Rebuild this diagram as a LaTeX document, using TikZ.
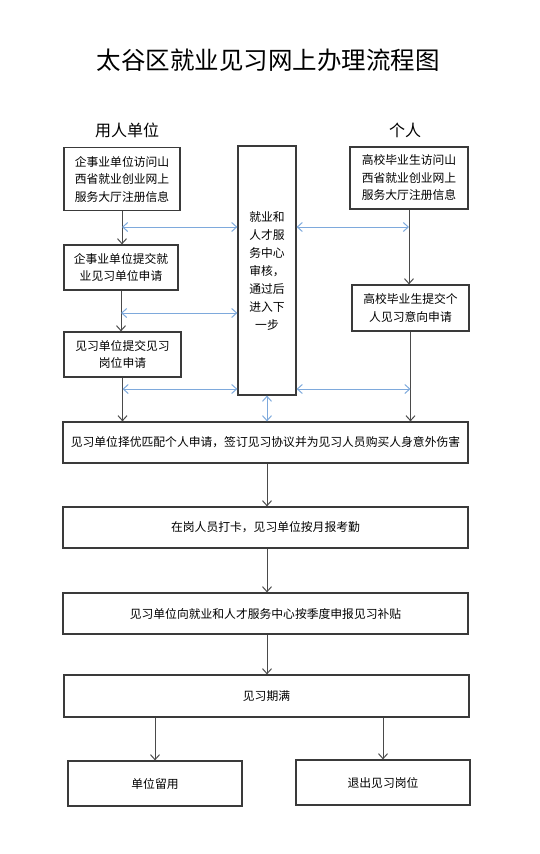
\documentclass[tikz,border=0pt]{standalone}
\usepackage{fontspec}
\setmainfont{Noto Sans CJK SC}
\usetikzlibrary{arrows.meta,calc}
\definecolor{boxline}{HTML}{3A3A3A}
\definecolor{arrline}{HTML}{4A4A4A}
\definecolor{bluearr}{HTML}{7EA9DC}
\tikzset{
  box/.style={draw=boxline,line width=1.2pt,align=center,inner sep=0pt,
    font=\fontsize{11.8}{17.5}\selectfont},
  arr/.style={draw=arrline,line width=1pt,-{Straight Barb[length=5pt,width=9pt]}},
  barr/.style={draw=bluearr,line width=1pt,{Straight Barb[length=5pt,width=9pt]}-{Straight Barb[length=5pt,width=9pt]}},
  hdr/.style={font=\fontsize{16}{18}\selectfont}
}
\begin{document}
\begin{tikzpicture}[x=1pt,y=-1pt]
\useasboundingbox (0,0) rectangle (539,854);
\node[font=\fontsize{24.5}{26}\selectfont] (title) at (268,60) {太谷区就业见习网上办理流程图};
\node[hdr] (h1) at (127,130) {用人单位};
\node[hdr] (h2) at (405,130) {个人};

\node[box,minimum width=116pt,minimum height=63pt] (A) at (122,179) {企事业单位访问山\\西省就业创业网上\\服务大厅注册信息};
\node[box,minimum width=118pt,minimum height=62pt] (B) at (409,178) {高校毕业生访问山\\西省就业创业网上\\服务大厅注册信息};
\node[box,minimum width=58pt,minimum height=249pt,font=\fontsize{11.8}{18}\selectfont] (M) at (267,270.5) {就业和\\人才服\\务中心\\审核，\\通过后\\进入下\\一步};
\node[box,minimum width=114pt,minimum height=45pt] (C) at (121,267.5) {企事业单位提交就\\业见习单位申请};
\node[box,minimum width=117pt,minimum height=45pt] (D) at (122.5,354.5) {见习单位提交见习\\岗位申请};
\node[box,minimum width=117pt,minimum height=46pt] (E) at (410.5,308) {高校毕业生提交个\\人见习意向申请};
\node[box,minimum width=405pt,minimum height=41pt] (F) at (265.5,442.5) {见习单位择优匹配个人申请，签订见习协议并为见习人员购买人身意外伤害};
\node[box,minimum width=405pt,minimum height=41pt] (G) at (265.5,527.5) {在岗人员打卡，见习单位按月报考勤};
\node[box,minimum width=405pt,minimum height=41pt] (H) at (265.5,613.5) {见习单位向就业和人才服务中心按季度申报见习补贴};
\node[box,minimum width=405pt,minimum height=42pt] (I) at (266.5,696) {见习期满};
\node[box,minimum width=174pt,minimum height=45pt] (J) at (155,783.5) {单位留用};
\node[box,minimum width=174pt,minimum height=45pt] (K) at (383,782.5) {退出见习岗位};

% left column
\draw[arr] (A.south) -- (A.south |- C.north);
\draw[arr] (C.south) -- (C.south |- D.north);
\draw[arr] (D.south) -- (D.south |- F.north);
% right column
\draw[arr] (B.south) -- (B.south |- E.north);
\draw[arr] (E.south) -- (E.south |- F.north);
% levels for blue arrows
\coordinate (y1) at (0,227);
\coordinate (y2) at (0,313);
\coordinate (y3) at (0,389);
\draw[barr] (A.south |- y1) -- (M.west |- y1);
\draw[barr] (M.east |- y1) -- (B.south |- y1);
\draw[barr] (C.south |- y2) -- (M.west |- y2);
\draw[barr] (D.south |- y3) -- (M.west |- y3);
\draw[barr] (M.east |- y3) -- (E.south |- y3);
\draw[barr] (M.south) -- (M.south |- F.north);
% main flow
\draw[arr] (F.south -| M.south) -- (G.north -| M.south);
\draw[arr] (G.south -| M.south) -- (H.north -| M.south);
\draw[arr] (H.south -| M.south) -- (I.north -| M.south);
\draw[arr] (J.north |- I.south) -- (J.north);
\draw[arr] (K.north |- I.south) -- (K.north);
\end{tikzpicture}
\end{document}
